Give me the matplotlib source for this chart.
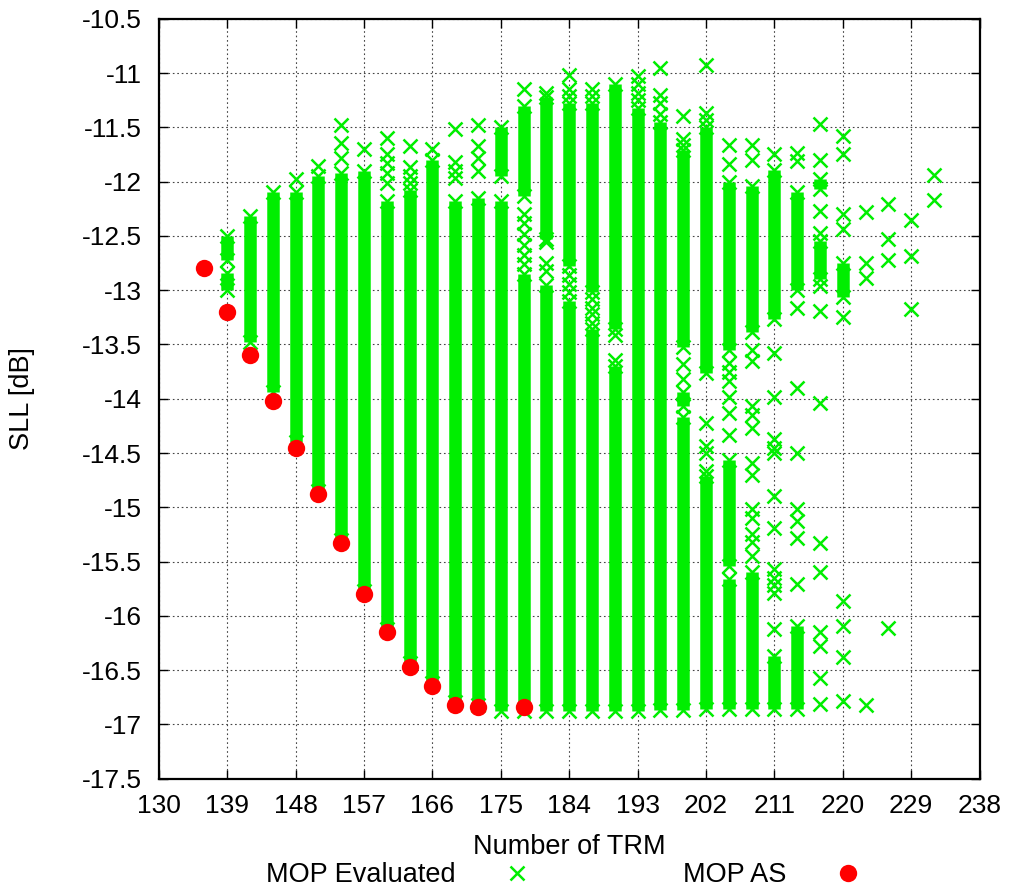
import matplotlib.pyplot as plt

plt.rcParams['font.family'] = ['Liberation Sans', 'DejaVu Sans']

# dense runs of evaluated solutions: (TRM count, lowest SLL, highest SLL)
seg_x = [139, 139, 142, 145, 148, 151, 154, 157, 160, 163, 166, 169, 172,
         175, 175, 178, 178, 181, 181, 184, 184, 187, 187, 190, 190, 193,
         196, 199, 199, 199, 202, 202, 205, 205, 205, 208, 208, 211, 211,
         214, 214, 217, 217, 220]
seg_lo = [-12.72, -13.00, -13.48, -13.94, -14.40, -14.85, -15.30, -15.77, -16.12,
          -16.43, -16.62, -16.79, -16.82, -11.95, -16.88, -12.13, -16.88, -12.53,
          -16.88, -12.78, -16.88, -13.02, -16.88, -13.36, -16.88, -16.88, -16.87,
          -13.52, -14.07, -16.87, -13.76, -16.86, -13.55, -15.54, -16.86, -13.39,
          -16.86, -13.27, -16.86, -13.00, -16.86, -12.07, -12.90, -13.06]
seg_hi = [-12.50, -12.84, -12.32, -12.10, -12.10, -11.95, -11.92, -11.90, -12.18,
          -12.08, -11.80, -12.18, -12.15, -11.50, -12.18, -11.30, -12.85, -11.22,
          -12.95, -11.28, -13.10, -11.28, -13.36, -11.10, -13.70, -11.32, -11.45,
          -11.71, -13.94, -14.17, -11.50, -14.71, -12.00, -14.56, -15.66, -12.04,
          -15.60, -11.89, -16.37, -12.10, -16.09, -11.98, -12.55, -12.75]

# isolated evaluated solutions
pts_x = ([148] + [151] + [154] * 3 + [157] + [160] * 5 + [163] * 4 + [166]
         + [169] * 4 + [172] * 4 + [178] * 7 + [181] * 4 + [184] * 6 + [187] * 6
         + [190] * 2 + [193] * 4 + [196] * 4 + [199] * 5 + [202] * 7 + [205] * 8
         + [208] * 14 + [211] * 13 + [214] * 9 + [217] * 13 + [220] * 9
         + [223] * 4 + [226] * 4 + [229] * 3 + [232] * 2)
pts_y = [-11.98,
         -11.86,
         -11.48, -11.64, -11.78,
         -11.70,
         -11.60, -11.75, -11.83, -11.92, -12.01,
         -11.67, -11.87, -11.95, -12.01,
         -11.70,
         -11.52, -11.82, -11.90, -11.97,
         -11.48, -11.67, -11.78, -11.90,
         -11.15, -12.30, -12.38, -12.48, -12.58, -12.68, -12.76,
         -11.18, -12.56, -12.75, -12.82,
         -11.02, -11.15, -11.21, -12.86, -12.94, -13.02,
         -11.15, -11.21, -13.08, -13.16, -13.22, -13.30,
         -13.41, -13.64,
         -11.03, -11.10, -11.18, -11.25,
         -10.95, -11.20, -11.28, -11.38,
         -11.40, -11.61, -11.66, -13.68, -13.82,
         -10.93, -11.37, -11.43, -14.22, -14.44, -14.50, -14.67,
         -11.66, -11.84, -13.67, -13.75, -13.84, -13.98, -14.13, -14.33,
         -11.66, -11.80, -13.55, -13.65, -14.07, -14.15, -14.27, -14.59, -14.70,
         -15.02, -15.10, -15.25, -15.32, -15.45,
         -11.75, -13.58, -13.98, -14.37, -14.45, -14.50, -14.90, -15.19, -15.57,
         -15.65, -15.72, -15.79, -16.12,
         -11.74, -11.81, -13.16, -13.90, -14.50, -15.02, -15.13, -15.28, -15.71,
         -11.47, -11.80, -12.27, -12.47, -12.96, -13.19, -14.04, -15.33, -15.60,
         -16.15, -16.28, -16.57, -16.81,
         -11.58, -11.75, -12.30, -12.44, -13.25, -15.86, -16.09, -16.38, -16.78,
         -12.28, -12.75, -12.89, -16.82,
         -12.21, -12.53, -12.72, -16.11,
         -12.35, -12.69, -13.17,
         -11.94, -12.17]

# MOP AS front
as_x = [136, 139, 142, 145, 148, 151, 154, 157, 160, 163, 166, 169, 172, 178]
as_y = [-12.80, -13.20, -13.60, -14.02, -14.45, -14.88, -15.33, -15.80, -16.15,
        -16.47, -16.65, -16.82, -16.84, -16.84]

x_ticks = list(range(130, 239, 9))
y_ticks = [-17.5 + 0.5 * i for i in range(15)]

green = '#00ee00'
fig = plt.figure(figsize=(10.11, 8.92), dpi=100)
ax = fig.add_axes([0.157, 0.127, 0.812, 0.852])

ax.vlines(seg_x, seg_lo, seg_hi, colors=green, linewidth=9, zorder=2)
ax.plot(seg_x + seg_x, seg_lo + seg_hi, 'x', color=green, ms=9.5, mew=1.8, zorder=2)
ev, = ax.plot(pts_x, pts_y, 'x', color=green, ms=9.5, mew=1.8, zorder=2,
              label='MOP Evaluated')
mas, = ax.plot(as_x, as_y, 'o', color='#ff0000', ms=12.5, mew=0, zorder=3,
               label='MOP AS')

ax.set_xlim(130, 238)
ax.set_ylim(-17.5, -10.5)
ax.set_xticks(x_ticks)
ax.set_yticks(y_ticks)
ax.set_yticklabels([f'{v:g}' for v in y_ticks])
ax.tick_params(direction='in', length=6.5, width=1, top=True, right=True,
               labelsize=19)
ax.tick_params(axis='y', pad=12)
ax.tick_params(axis='x', pad=11)
ax.set_axisbelow(True)
ax.grid(True, color='#444444', linestyle=(0, (1.5, 2.5)), linewidth=0.8)
for s in ax.spines.values():
    s.set_linewidth(1.6)

ax.set_xlabel('Number of TRM', fontsize=19.5)
ax.xaxis.set_label_coords(0.5, -0.073)
ax.set_ylabel('SLL [dB]', fontsize=19.5)
ax.yaxis.set_label_coords(-0.151, 0.5)

fig.legend(handles=[ev, mas], loc='center', bbox_to_anchor=(0.575, 0.019),
           ncol=2, frameon=False, markerfirst=False, fontsize=19.5,
           handlelength=3.6, handletextpad=0.5, columnspacing=4.3,
           borderpad=0, borderaxespad=0)

fig.savefig('out.png', dpi=100)
